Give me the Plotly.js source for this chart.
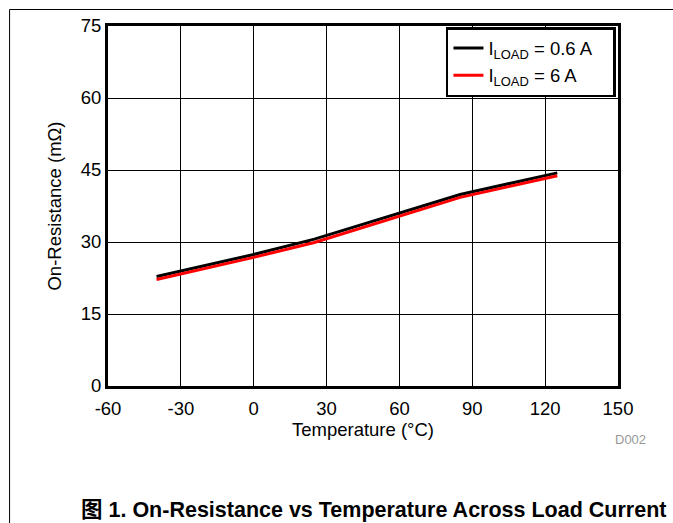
<!DOCTYPE html>
<html><head><meta charset="utf-8">
<script src="https://cdn.plot.ly/plotly-3.0.1.min.js"></script>
<style>body{margin:0;background:#fff;overflow:hidden}#c{width:673px;height:523px}</style>
</head><body><div id="c"></div>
<script>
var temps = [-40, 0, 25, 60, 85, 125];
var ron06 = [22.8, 27.4, 30.6, 36.0, 39.9, 44.4];
var ron6 = [22.2, 26.8, 29.9, 35.3, 39.3, 43.8];
var xTicks = [-60, -30, 0, 30, 60, 90, 120, 150];
var yTicks = [0, 15, 30, 45, 60, 75];
var seriesNames = ['I<sub>LOAD</sub> = 0.6 A&nbsp;&nbsp;&nbsp;', 'I<sub>LOAD</sub> = 6 A'];
var F = 'Arial, "Liberation Sans", sans-serif';
var traces = [
 {x: temps, y: ron06, mode: 'lines', name: seriesNames[0], line: {color: '#000', width: 3}},
 {x: temps, y: ron6, mode: 'lines', name: seriesNames[1], line: {color: '#ff0000', width: 3}}
];
var layout = {
 width: 673, height: 523,
 margin: {l: 108, r: 55, t: 26, b: 137},
 paper_bgcolor: '#fff', plot_bgcolor: '#fff',
 font: {family: F, color: '#000', size: 18.5},
 showlegend: true,
 legend: {x: 0.996, y: 0.997, xanchor: 'right', yanchor: 'top', bgcolor: '#fff', bordercolor: '#000', borderwidth: 2.5,
   font: {family: F, size: 18.5}, tracegroupgap: 0},
 xaxis: {range: [-60, 150], tickvals: xTicks, ticktext: xTicks.map(String), showgrid: true, gridcolor: '#000', gridwidth: 1,
   zeroline: false, showline: true, linecolor: '#000', linewidth: 3, mirror: true, ticks: '', ticklen: 0, tickfont: {size: 18.5},
   ticklabelstandoff: 4,
   title: {text: 'Temperature (°C)', font: {size: 18.5}, standoff: 2}},
 yaxis: {range: [0, 75], tickvals: yTicks, ticktext: yTicks.map(String), showgrid: true, gridcolor: '#000', gridwidth: 1,
   zeroline: false, showline: true, linecolor: '#000', linewidth: 3, mirror: true, ticks: '', tickfont: {size: 18.5},
   title: {text: 'On-Resistance (mΩ)', font: {size: 18.5}, standoff: 15}},
 shapes: [
   {type: 'line', xref: 'paper', yref: 'paper', x0: -0.193, x1: 1.15, y0: 1.0458, y1: 1.0458, line: {color: '#000', width: 1}},
   {type: 'line', xref: 'paper', yref: 'paper', x0: -0.193, x1: -0.193, y0: 1.0458, y1: -0.4, line: {color: '#000', width: 1}}
 ],
 annotations: [
   {xref: 'paper', yref: 'paper', x: (630 - 108) / 510, y: (386 - 440) / 360, text: 'D002', showarrow: false,
    font: {family: F, size: 13, color: '#999'}, xanchor: 'center', yanchor: 'middle'},
   {xref: 'paper', yref: 'paper', x: (373 - 108) / 510, y: (386 - 510) / 360, text: '<b>图 1. On-Resistance vs Temperature Across Load Current</b>', showarrow: false,
    font: {family: F + ', "Noto Sans CJK SC"', size: 21.5, color: '#000'}, xanchor: 'center', yanchor: 'middle'}
 ]
};
Plotly.newPlot('c', traces, layout, {displayModeBar: false, staticPlot: true});
</script></body></html>
